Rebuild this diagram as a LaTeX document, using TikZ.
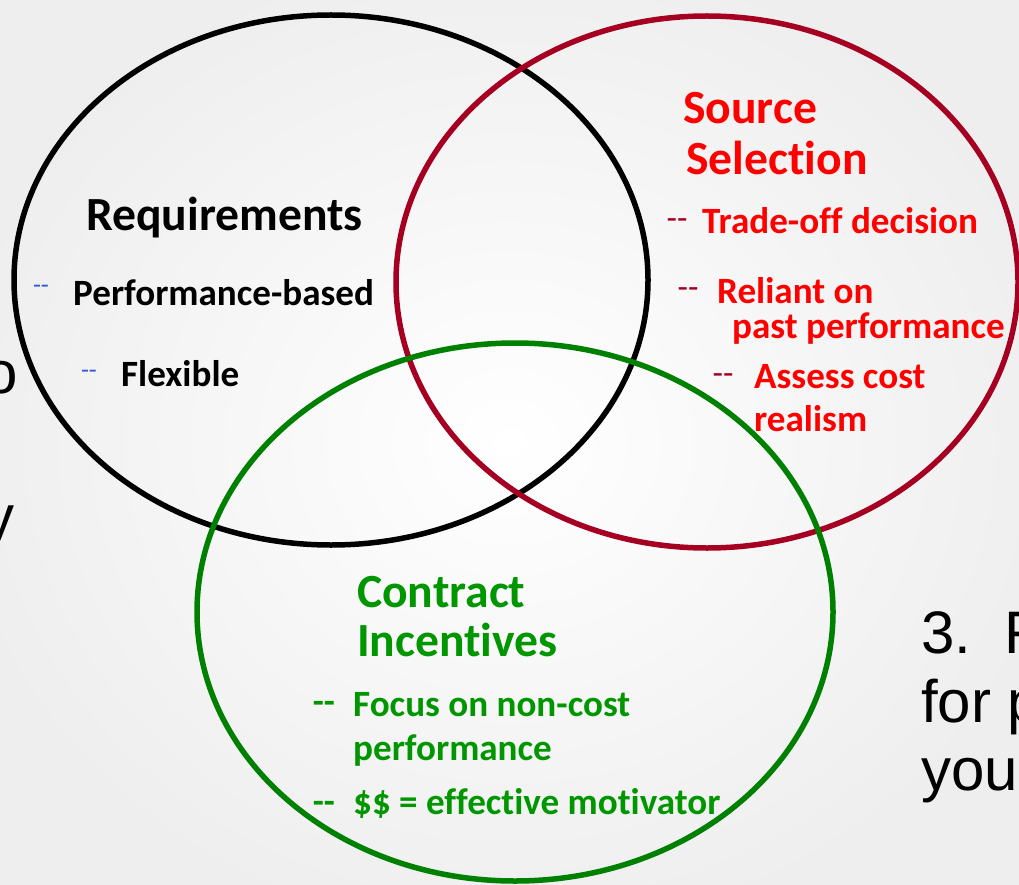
\documentclass[tikz,border=0pt]{standalone}
\usepackage{fontspec}
\setmainfont{Carlito}[Ligatures={NoCommon}]
\newfontfamily\arialfont{Liberation Sans}
\definecolor{ringred}{RGB}{165,0,33}
\definecolor{titlered}{RGB}{255,0,0}
\definecolor{ringgreen}{RGB}{0,128,0}
\definecolor{textgreen}{RGB}{0,150,0}
\definecolor{dashblue}{RGB}{50,90,215}
\definecolor{bggray}{RGB}{238,238,238}
\begin{document}
\begin{tikzpicture}[x=1pt,y=-1pt,
  ring/.style={line width=5.5pt},
  title/.style={anchor=base west,inner sep=0pt,font=\fontsize{47.6}{52}\selectfont\bfseries},
  item/.style={anchor=base west,inner sep=0pt,font=\fontsize{37.1}{40}\selectfont\bfseries},
  bluedash/.style={inner sep=0pt,text=dashblue,font=\fontsize{26}{30}\selectfont},
  reddash/.style={inner sep=0pt,text=ringred,font=\fontsize{34}{40}\selectfont},
  greendash/.style={inner sep=0pt,text=textgreen,font=\fontsize{36}{40}\selectfont\bfseries},
  side/.style={inner sep=0pt,font=\arialfont\fontsize{60}{70}\selectfont}]
\useasboundingbox (0,0) rectangle (1019,885);
\clip (0,0) rectangle (1019,885);
\shade[inner color=white,outer color=bggray] (-60,-60) rectangle (1079,945);

% the three sets
\draw[ring,black] (331,280) ellipse [x radius=317pt,y radius=265pt];
\draw[ring,ringred] (707,282) ellipse [x radius=311pt,y radius=266pt];
\draw[ring,ringgreen] (515,612) ellipse [x radius=318pt,y radius=269pt];

% Requirements
\node[title,text=black] (req) at (86,231) {Requirements};
\node[bluedash] (rd1) at (41,289) {-{}-};
\node[item,text=black] (req1) at (73,305) {Performance-based};
\node[bluedash] (rd2) at (89,374) {-{}-};
\node[item,text=black] (req2) at (121,386) {Flexible};

% Source Selection
\node[title,text=titlered] (src1) at (683,124) {Source};
\node[title,text=titlered] (src2) at (686,175) {Selection};
\node[reddash] (sd1) at (677,224) {-{}-};
\node[item,text=titlered] (src3) at (702,234) {Trade-off decision};
\node[reddash] (sd2) at (688,293) {-{}-};
\node[item,text=titlered] (src4) at (717,303) {Reliant on};
\node[item,text=titlered] (src5) at (732,338) {past performance};
\node[reddash] (sd3) at (723,379) {-{}-};
\node[item,text=titlered] (src6) at (754,388) {Assess cost};
\node[item,text=titlered] (src7) at (754,431) {realism};

% Contract Incentives
\node[title,text=textgreen] (con1) at (357,607) {Contract};
\node[title,text=textgreen] (con2) at (357,656) {Incentives};
\node[greendash] (gd1) at (324,707) {-{}-};
\node[item,text=textgreen] (con3) at (353,716) {Focus on non-cost};
\node[item,text=textgreen] (con4) at (353,760) {performance};
\node[greendash] (gd2) at (324,807) {-{}-};
\node[item,text=textgreen] (con5) at (353,814) {\$\$ = effective motivator};

% slide text running past the edges
\node[side,anchor=base west] (s1) at (921,653) {3.\ \ F};
\node[side,anchor=base west] (s2) at (921,722) {for p};
\node[side,anchor=base west] (s3) at (921,790) {you};
\node[side,anchor=base east] (s4) at (18,393) {o};
\node[side,anchor=base east] (s5) at (15,537) {y};
\end{tikzpicture}
\end{document}
